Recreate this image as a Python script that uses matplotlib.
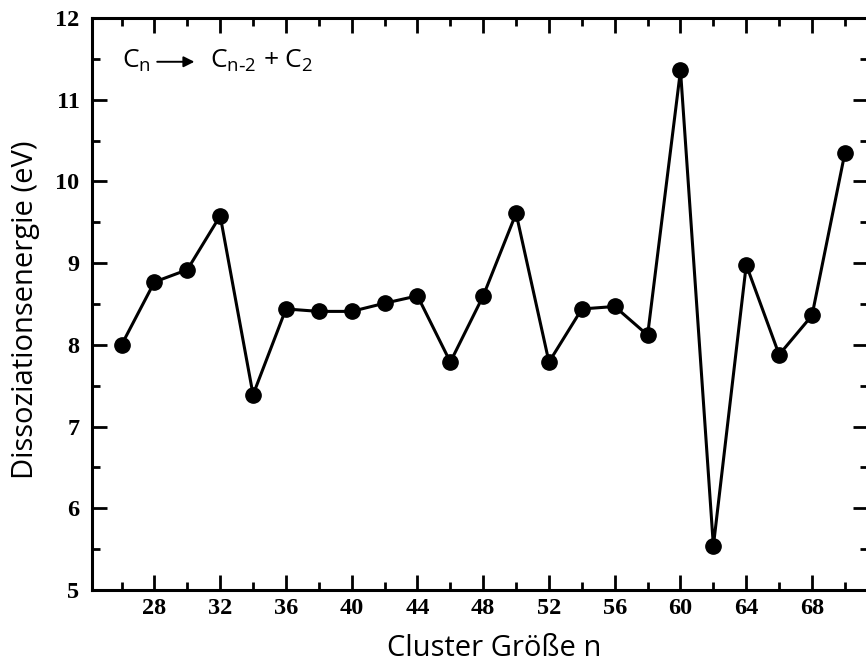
import matplotlib
matplotlib.use("Agg")
import matplotlib.pyplot as plt
from matplotlib.ticker import MultipleLocator

# Cluster size n and dissociation energy (eV) for C_n -> C_{n-2} + C_2
cluster_n = [26, 28, 30, 32, 34, 36, 38, 40, 42, 44, 46, 48,
             50, 52, 54, 56, 58, 60, 62, 64, 66, 68, 70]
energy_ev = [8.00, 8.77, 8.92, 9.58, 7.39, 8.44, 8.41, 8.41, 8.51, 8.60, 7.79, 8.60,
             9.61, 7.79, 8.44, 8.47, 8.12, 11.36, 5.54, 8.98, 7.88, 8.36, 10.35]

x_label = "Cluster Größe n"
y_label = "Dissoziationsenergie (eV)"

fig = plt.figure(figsize=(8.66, 6.64), dpi=100)
ax = fig.add_axes([0.1062, 0.1114, 0.8960, 0.8614])

ax.plot(cluster_n, energy_ev, color="black", lw=2.2, marker="o", ms=11,
        markerfacecolor="black", markeredgecolor="black", zorder=3)

ax.set_xlim(24.2, 71.4)
ax.set_ylim(5, 12)
ax.xaxis.set_major_locator(MultipleLocator(4))
ax.xaxis.set_minor_locator(MultipleLocator(2))
ax.yaxis.set_major_locator(MultipleLocator(1))
ax.yaxis.set_minor_locator(MultipleLocator(0.5))
ax.set_xticks(range(28, 70, 4))

for s in ax.spines.values():
    s.set_linewidth(2.2)

ax.tick_params(which="both", direction="in", top=True, right=True, width=2)
ax.tick_params(which="major", length=11)
ax.tick_params(which="minor", length=5.5)
ax.tick_params(axis="x", which="major", pad=6)
ax.tick_params(axis="y", which="major", pad=9)

for lbl in ax.get_xticklabels() + ax.get_yticklabels():
    lbl.set_fontfamily("Liberation Serif")
    lbl.set_fontweight("bold")
    lbl.set_fontsize(17.5)

ax.set_xlabel(x_label, fontsize=21, fontfamily="Open Sans", va="baseline")
ax.set_ylabel(y_label, fontsize=21, fontfamily="Open Sans", va="center")
ax.xaxis.set_label_coords(0.519, -0.1154)
ax.yaxis.set_label_coords(-0.0863, 0.4895)

# reaction annotation
ax.text(26.05, 11.40, r"C$_\mathregular{n}$", fontsize=19, fontfamily="Open Sans",
        va="baseline", ha="left")
ax.annotate("", xy=(30.6, 11.465), xytext=(28.0, 11.465),
            arrowprops=dict(arrowstyle="-|>", color="black", lw=1.4,
                            mutation_scale=16))
ax.text(31.4, 11.40, r"C$_\mathregular{n\text{-}2}$ + C$_\mathregular{2}$", fontsize=19,
        fontfamily="Open Sans", va="baseline", ha="left")

fig.savefig("out.png", dpi=100)
